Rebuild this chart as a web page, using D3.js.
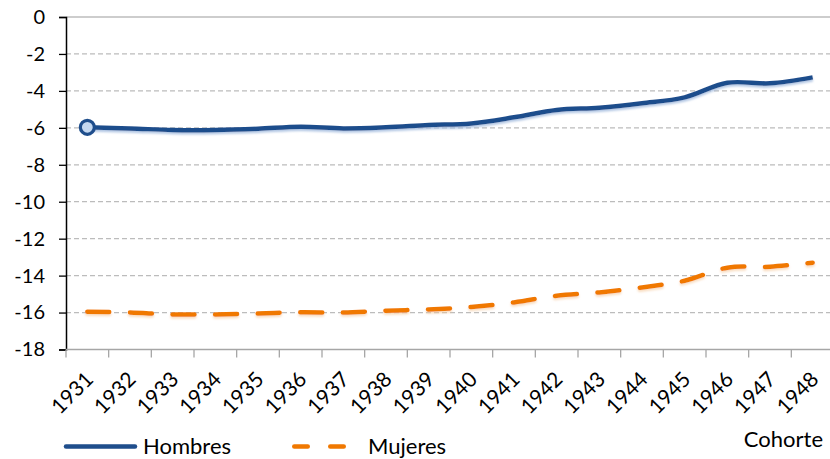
<!DOCTYPE html>
<html><head><meta charset="utf-8">
<script src="https://cdn.jsdelivr.net/npm/d3@7"></script>
<style>body{margin:0;background:#fff}svg{display:block}text{font-family:Lato,"Open Sans",sans-serif;fill:#000}</style>
</head><body><svg id="c" width="830" height="459"></svg>
<script>
const years = ["1931","1932","1933","1934","1935","1936","1937","1938","1939","1940","1941","1942","1943","1944","1945","1946","1947","1948"];
const hombres = [-5.97,-6.03,-6.12,-6.12,-6.05,-5.94,-6.03,-5.97,-5.85,-5.76,-5.43,-5.03,-4.91,-4.67,-4.35,-3.56,-3.59,-3.27];
const mujeres = [-15.95,-16.0,-16.1,-16.1,-16.05,-15.98,-16.0,-15.9,-15.83,-15.7,-15.45,-15.09,-14.91,-14.64,-14.28,-13.57,-13.52,-13.3];
const yTicks = [0,-2,-4,-6,-8,-10,-12,-14,-16,-18];
const seriesNames = ["Hombres","Mujeres"];
const axisTitle = "Cohorte";

(function(){
const svg = d3.select("#c");
const pL = 66, pR = 834, pT = 17, pB = 349.5;
const x = d3.scaleBand().domain(years).range([pL, pR]).paddingInner(0).paddingOuter(0);
const y = d3.scaleLinear().domain([-18, 0]).range([pB, pT]);
const cx = d => x(d) + x.bandwidth()/2;

const defs = svg.append("defs");
const f1 = defs.append("filter").attr("id","sh1").attr("x","-5%").attr("y","-50%").attr("width","110%").attr("height","200%");
f1.append("feDropShadow").attr("dx",0).attr("dy",2).attr("stdDeviation",1.2).attr("flood-color","#9db7dc").attr("flood-opacity",0.8);
const f2 = defs.append("filter").attr("id","sh2").attr("x","-5%").attr("y","-50%").attr("width","110%").attr("height","200%");
f2.append("feDropShadow").attr("dx",0).attr("dy",2).attr("stdDeviation",1.2).attr("flood-color","#f5c79a").attr("flood-opacity",0.6);

// gridlines
svg.append("g").selectAll("line").data(yTicks.filter(v => v !== -18)).join("line")
  .attr("x1", pL).attr("x2", 830).attr("y1", d => y(d)).attr("y2", d => y(d))
  .attr("stroke", "#bcbcbc").attr("stroke-width", 1.3)
  .attr("stroke-dasharray", d => d === 0 ? null : "5,3");

// y axis
const yAxis = d3.axisLeft(y).tickValues(yTicks).tickSize(7).tickPadding(14).tickFormat(d3.format("d"));
const gy = svg.append("g").attr("transform", `translate(${pL},0)`).call(yAxis);
gy.select(".domain").attr("stroke","#000").attr("stroke-width",1.5);
gy.selectAll(".tick line").attr("stroke","#000").attr("stroke-width",1.3);
gy.selectAll("text").style("font-size","20px").attr("fill","#000").text(d => d === 0 ? "0" : "-" + Math.abs(d));

// x axis
svg.append("line").attr("x1", pL).attr("x2", 830).attr("y1", pB).attr("y2", pB).attr("stroke","#a6a6a6").attr("stroke-width",1.5);
svg.append("g").selectAll("line").data(years.concat(["end"])).join("line")
  .attr("x1", d => d === "end" ? pR : x(d)).attr("x2", d => d === "end" ? pR : x(d))
  .attr("y1", pB).attr("y2", pB + 8).attr("stroke","#a6a6a6").attr("stroke-width",1.3);
svg.append("g").selectAll("text").data(years).join("text")
  .attr("transform", d => `translate(${cx(d)+2},${pB+26}) rotate(-45)`)
  .attr("text-anchor","end").attr("dy","0.35em").style("font-size","21px").text(d => d);

// lines
const line = d3.line().x((d,i) => cx(years[i])).y(d => y(d)).curve(d3.curveCatmullRom.alpha(0.5));
svg.append("path").datum(mujeres).attr("d", line).attr("fill","none").attr("stroke","#f07800")
  .attr("stroke-width",4.5).attr("stroke-linecap","round").attr("stroke-dasharray","22,20.6").attr("filter","url(#sh2)");
svg.append("path").datum(hombres).attr("d", line).attr("fill","none").attr("stroke","#1f4e8c")
  .attr("stroke-width",4.5).attr("stroke-linejoin","round").attr("filter","url(#sh1)");
svg.append("circle").attr("cx", cx(years[0])).attr("cy", y(hombres[0])).attr("r",7)
  .attr("fill","#c5d8f0").attr("stroke","#1f4e8c").attr("stroke-width",3.2);

// legend
const ly = 446.5;
svg.append("line").attr("x1",66).attr("x2",135).attr("y1",ly).attr("y2",ly).attr("stroke","#1f4e8c").attr("stroke-width",4.5).attr("stroke-linecap","round");
svg.append("text").attr("x",143).attr("y",ly).attr("dy","0.36em").style("font-size","22px").text(seriesNames[0]);
svg.append("line").attr("x1",294.25).attr("x2",344.75).attr("y1",ly).attr("y2",ly).attr("stroke","#f07800").attr("stroke-width",4.5).attr("stroke-linecap","round").attr("stroke-dasharray","13.5,22.5");
svg.append("text").attr("x",368).attr("y",ly).attr("dy","0.36em").style("font-size","22px").text(seriesNames[1]);
svg.append("text").attr("x",823).attr("y",447).attr("text-anchor","end").style("font-size","22px").text(axisTitle);
})();
</script></body></html>
